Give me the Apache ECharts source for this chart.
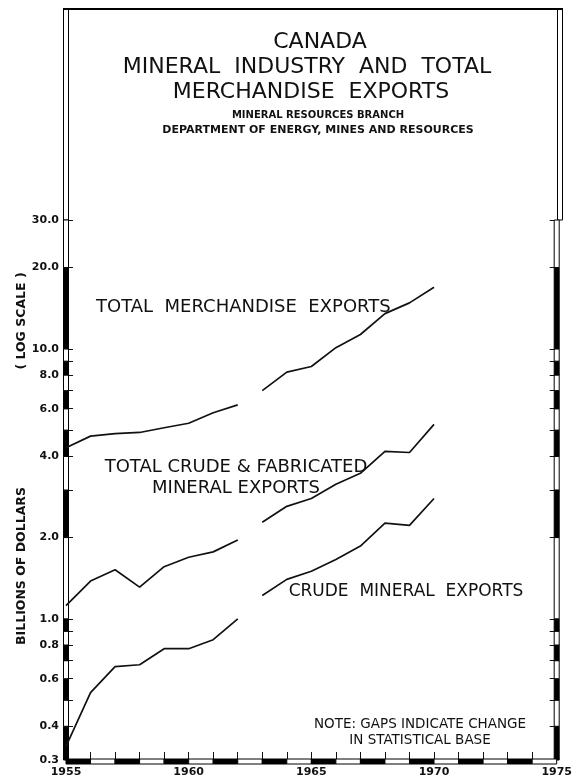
<!DOCTYPE html>
<html>
<head>
<meta charset="utf-8">
<script src="https://cdn.jsdelivr.net/npm/echarts@6/dist/echarts.min.js"></script>
<style>
  html, body { margin: 0; padding: 0; background: #fff; }
  #chart { width: 575px; height: 778px; }
</style>
</head>
<body>
<div id="chart"></div>
<script>
// years, the gap sits after 1962
var yearsA = [1955, 1956, 1957, 1958, 1959, 1960, 1961, 1962];
var yearsB = [1963, 1964, 1965, 1966, 1967, 1968, 1969, 1970];

// billions of dollars
var merchA = [4.3, 4.75, 4.85, 4.9, 5.1, 5.3, 5.8, 6.2];
var merchB = [7.0, 8.2, 8.6, 10.1, 11.3, 13.5, 14.8, 16.9];
var crudeFabA = [1.12, 1.38, 1.52, 1.31, 1.56, 1.69, 1.77, 1.96];
var crudeFabB = [2.28, 2.61, 2.79, 3.15, 3.46, 4.17, 4.13, 5.25];
var crudeA = [0.337, 0.533, 0.665, 0.676, 0.775, 0.775, 0.837, 1.0];
var crudeB = [1.22, 1.40, 1.50, 1.66, 1.86, 2.26, 2.22, 2.79];

// axis ticks and labels
var yTicks = [0.3, 0.4, 0.5, 0.6, 0.7, 0.8, 0.9, 1, 2, 3, 4, 5, 6, 7, 8, 9, 10, 20, 30];
var yLabels = [0.3, 0.4, 0.6, 0.8, 1, 2, 4, 6, 8, 10, 20, 30];
var xTicks = [];
for (var yr = 1955; yr <= 1975; yr++) xTicks.push(yr);

var font = '"DejaVu Sans", sans-serif';
var ink = '#111';

function pairs(xs, ys) {
  return xs.map(function (x, i) { return [x, ys[i]]; });
}

function lineSeries(xs, ys) {
  return {
    type: 'line',
    data: pairs(xs, ys),
    showSymbol: false,
    symbol: 'none',
    silent: true,
    lineStyle: { color: ink, width: 1.7 },
    z: 5
  };
}

// segments of the side bars (black / white alternating)
var ySegs = [];
for (var i = 0; i < yTicks.length - 1; i++) {
  ySegs.push([1955, yTicks[i], yTicks[i + 1], i % 2 === 0 ? 1 : 0]);
  ySegs.push([1975, yTicks[i], yTicks[i + 1], i % 2 === 0 ? 1 : 0]);
}
var xSegs = [];
for (var j = 0; j < xTicks.length - 1; j++) {
  xSegs.push([xTicks[j], 0.3, xTicks[j + 1], xTicks[j] % 2 === 1 ? 1 : 0]);
}

var barW = 5;

function segStyle(black) {
  return black ? { fill: '#000', stroke: '#000', lineWidth: 1 }
               : { fill: '#fff', stroke: '#000', lineWidth: 1 };
}

function txt(x, y, s, size, opts) {
  opts = opts || {};
  return {
    type: 'text', x: x, y: y, rotation: opts.rotation || 0,
    style: {
      text: s,
      font: (opts.bold ? 'bold ' : '') + size + 'px ' + font,
      fill: ink,
      textAlign: opts.align || 'center',
      textVerticalAlign: 'middle'
    }
  };
}

var myChart = echarts.init(document.getElementById('chart'));

var option = {
  backgroundColor: '#fff',
  animation: false,
  grid: { left: 66, right: 15, top: 220, bottom: 16 },
  xAxis: {
    type: 'value',
    min: 1955,
    max: 1975,
    interval: 5,
    axisLine: { show: false },
    splitLine: { show: false },
    axisTick: {
      show: true,
      inside: true,
      length: 8,
      customValues: xTicks,
      lineStyle: { color: ink, width: 1 }
    },
    axisLabel: {
      margin: 7,
      fontFamily: font,
      fontSize: 11,
      fontWeight: 'bold',
      color: ink,
      formatter: function (v) { return String(v); }
    }
  },
  yAxis: [{
    type: 'log',
    logBase: 10,
    min: 0.3,
    max: 30,
    axisLine: { show: false },
    splitLine: { show: false },
    axisTick: {
      show: true,
      inside: true,
      length: 7,
      customValues: yTicks,
      lineStyle: { color: ink, width: 1 }
    },
    axisLabel: {
      customValues: yLabels,
      margin: 7,
      fontFamily: font,
      fontSize: 11,
      fontWeight: 'bold',
      color: ink,
      formatter: function (v) { return (+v).toFixed(1); }
    }
  }, {
    type: 'log',
    logBase: 10,
    min: 0.3,
    max: 30,
    position: 'right',
    axisLine: { show: false },
    splitLine: { show: false },
    axisTick: {
      show: true,
      inside: true,
      length: 7,
      customValues: yTicks,
      lineStyle: { color: ink, width: 1 }
    },
    axisLabel: { show: false }
  }],
  series: [
    lineSeries(yearsA, merchA),
    lineSeries(yearsB, merchB),
    lineSeries(yearsA, crudeFabA),
    lineSeries(yearsB, crudeFabB),
    lineSeries(yearsA, crudeA),
    lineSeries(yearsB, crudeB),
    {
      // side bars
      type: 'custom',
      silent: true,
      clip: false,
      data: ySegs,
      encode: { x: 0, y: 1 },
      z: 3,
      renderItem: function (params, api) {
        var lo = api.coord([api.value(0), api.value(1)]);
        var hi = api.coord([api.value(0), api.value(2)]);
        return {
          type: 'rect',
          shape: { x: lo[0] - barW / 2, y: hi[1], width: barW, height: lo[1] - hi[1] },
          style: segStyle(api.value(3))
        };
      }
    },
    {
      // bottom bar
      type: 'custom',
      silent: true,
      clip: false,
      data: xSegs,
      encode: { x: 0, y: 1 },
      z: 3,
      renderItem: function (params, api) {
        var a = api.coord([api.value(0), api.value(1)]);
        var b = api.coord([api.value(2), api.value(1)]);
        return {
          type: 'rect',
          shape: { x: a[0], y: a[1] - 1, width: b[0] - a[0], height: barW },
          style: segStyle(api.value(3))
        };
      }
    }
  ],
  graphic: [
    // frame above the 30.0 line
    { type: 'rect', shape: { x: 63.5, y: 9, width: barW, height: 211 }, style: { fill: '#fff', stroke: '#000', lineWidth: 1 } },
    { type: 'rect', shape: { x: 557.5, y: 9, width: barW, height: 211 }, style: { fill: '#fff', stroke: '#000', lineWidth: 1 } },
    { type: 'line', shape: { x1: 63, y1: 9, x2: 563, y2: 9 }, style: { stroke: '#000', lineWidth: 2 } },

    // titles
    txt(320, 42, 'CANADA', 22),
    txt(307, 67, 'MINERAL  INDUSTRY  AND  TOTAL', 22),
    txt(311, 92, 'MERCHANDISE  EXPORTS', 22),
    txt(318, 115, 'MINERAL RESOURCES BRANCH', 10, { bold: true }),
    txt(318, 130, 'DEPARTMENT OF ENERGY, MINES AND RESOURCES', 11, { bold: true }),

    // axis title, rotated
    txt(22, 566, 'BILLIONS OF DOLLARS', 12.5, { bold: true, rotation: Math.PI / 2 }),
    txt(22, 321, '( LOG SCALE )', 12.5, { bold: true, rotation: Math.PI / 2 }),

    // line labels
    txt(96, 307, 'TOTAL  MERCHANDISE  EXPORTS', 18, { align: 'left' }),
    txt(236, 467, 'TOTAL CRUDE & FABRICATED', 18),
    txt(236, 488, 'MINERAL EXPORTS', 18),
    txt(406, 592, 'CRUDE  MINERAL  EXPORTS', 17),

    // note
    txt(420, 724, 'NOTE: GAPS INDICATE CHANGE', 13.5),
    txt(420, 740, 'IN STATISTICAL BASE', 13.5)
  ]
};

myChart.setOption(option);
</script>
</body>
</html>
